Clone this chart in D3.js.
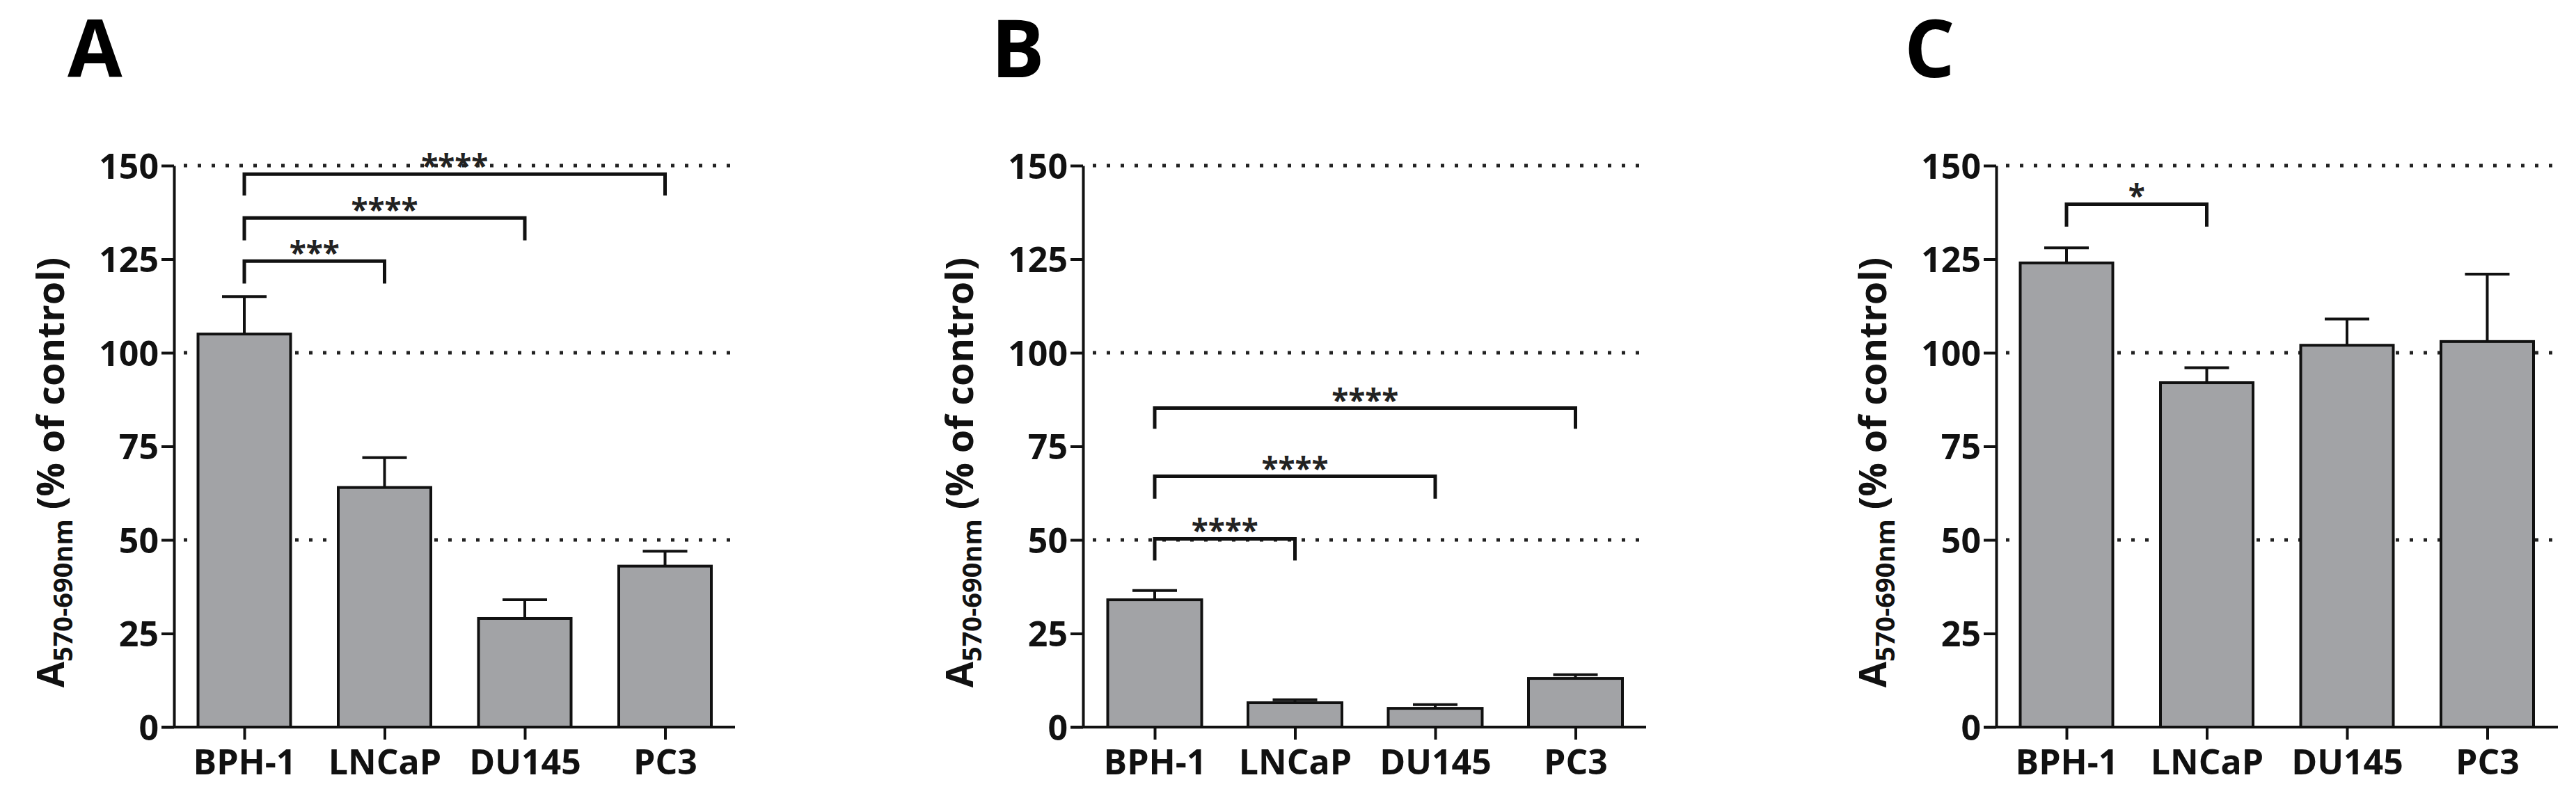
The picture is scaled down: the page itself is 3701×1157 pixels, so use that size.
<!DOCTYPE html>
<html><head><meta charset="utf-8">
<script src="https://cdn.jsdelivr.net/npm/d3@7"></script>
<style>body{margin:0;background:#fff}text{font-family:"Open Sans",sans-serif;font-weight:700}</style>
</head><body>
<script>
const categories = ["BPH-1", "LNCaP", "DU145", "PC3"];
const yTicks = [0, 25, 50, 75, 100, 125, 150];
const gridValues = [50, 100, 150];

const meansA = [105, 64, 29, 43];
const errA = [10, 8, 5, 4];
const meansB = [34, 6.5, 5, 13];
const errB = [2.5, 0.8, 1, 1];
const meansC = [124, 92, 102, 103];
const errC = [4, 4, 7, 18];

// brackets: [from, to, y, leftDrop, rightDrop, stars]
const bracketsA = [[0, 1, 124.5, 118.5, 118.5, "***"], [0, 2, 136, 130, 130, "****"], [0, 3, 147.7, 142, 142, "****"]];
const bracketsB = [[0, 1, 50.3, 44.5, 44.5, "****"], [0, 2, 67, 61, 61, "****"], [0, 3, 85.2, 79.7, 79.7, "****"]];
const bracketsC = [[0, 1, 139.7, 133.7, 133.7, "*"]];

const panels = [
  {letter: "A", lx: 97, x0: 250, x1: 1056, c0: 351, step: 201.5, bw: 133, means: meansA, err: errA, br: bracketsA},
  {letter: "B", lx: 1424, x0: 1556, x1: 2365, c0: 1659, step: 201.5, bw: 135, means: meansB, err: errB, br: bracketsB},
  {letter: "C", lx: 2736, x0: 2868, x1: 3675, c0: 2969, step: 201.5, bw: 133, means: meansC, err: errC, br: bracketsC}
];

const W = 3701, H = 1157;
const svg = d3.select("body").append("svg").attr("width", W).attr("height", H);

panels.forEach(p => {
  const g = svg.append("g");
  const x = d3.scalePoint().domain(categories).range([p.c0, p.c0 + 3 * p.step]);
  const y = d3.scaleLinear().domain([0, 150]).range([1045, 238]);

  g.append("text").attr("x", p.lx).attr("y", 111).attr("font-size", 114).attr("fill", "#000").text(p.letter);

  g.selectAll(".grid").data(gridValues).join("line")
    .attr("x1", p.x0 + 14).attr("x2", p.x1)
    .attr("y1", d => y(d)).attr("y2", d => y(d))
    .attr("stroke", "#222").attr("stroke-width", 5).attr("stroke-dasharray", "5,15");

  g.selectAll(".err").data(p.means).join("path")
    .attr("d", (d, i) => {
      const cx = x(categories[i]), top = y(d + p.err[i]);
      return `M${cx},${y(d)}V${top}M${cx - 32},${top}H${cx + 32}`;
    })
    .attr("stroke", "#111").attr("stroke-width", 4).attr("fill", "none");

  g.selectAll(".bar").data(p.means).join("rect")
    .attr("x", (d, i) => x(categories[i]) - p.bw / 2).attr("width", p.bw)
    .attr("y", d => y(d)).attr("height", d => y(0) - y(d))
    .attr("fill", "#a2a3a6").attr("stroke", "#111").attr("stroke-width", 4);

  const ya = g.append("g").attr("transform", `translate(${p.x0},0)`)
    .call(d3.axisLeft(y).tickValues(yTicks).tickSize(18).tickPadding(4).tickSizeOuter(0));
  ya.selectAll("text").attr("font-size", 50).attr("fill", "#111").attr("dy", "0.36em");
  ya.selectAll("line,path").attr("stroke", "#111").attr("stroke-width", 4);

  const xa = g.append("g").attr("transform", `translate(0,${y(0)})`)
    .call(d3.axisBottom(x).tickSize(18).tickPadding(14).tickSizeOuter(0));
  xa.select(".domain").attr("d", `M${p.x0 - 18},0H${p.x1}`);
  xa.selectAll("text").attr("font-size", 50).attr("fill", "#111");
  xa.selectAll("line,path").attr("stroke", "#111").attr("stroke-width", 4);

  const lab = g.append("text").attr("transform", `translate(${p.x0 - 158},${y(68)}) rotate(-90)`)
    .attr("text-anchor", "middle").attr("font-size", 54).attr("fill", "#111");
  lab.append("tspan").text("A");
  lab.append("tspan").attr("font-size", 38).attr("dy", 12).text("570-690nm");
  lab.append("tspan").attr("dy", -12).text(" (% of control)");

  p.br.forEach(b => {
    const xa1 = x(categories[b[0]]), xb1 = x(categories[b[1]]);
    g.append("path")
      .attr("d", `M${xa1},${y(b[3])}V${y(b[2])}H${xb1}V${y(b[4])}`)
      .attr("stroke", "#111").attr("stroke-width", 5).attr("fill", "none");
    g.append("text").attr("x", (xa1 + xb1) / 2).attr("y", y(b[2]) + 4)
      .attr("text-anchor", "middle").attr("font-size", 44).attr("fill", "#222").text(b[5]);
  });
});
</script>
</body></html>
